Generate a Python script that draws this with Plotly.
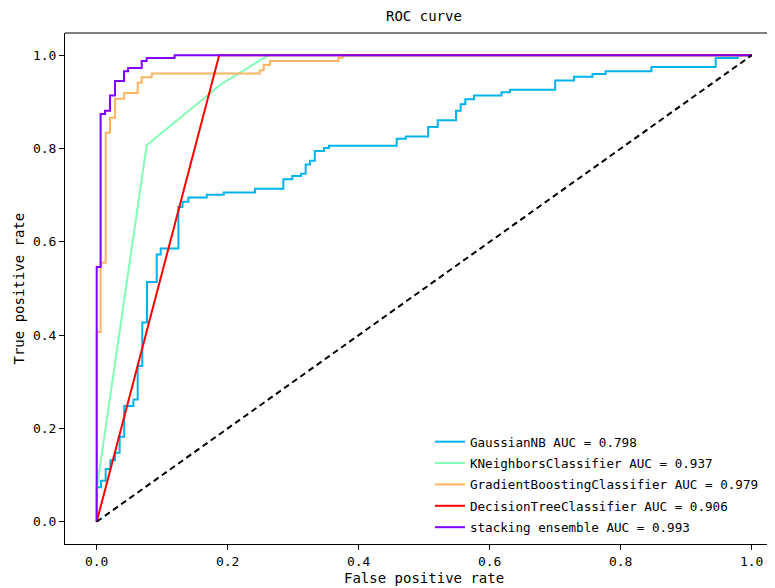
import plotly.graph_objects as go

# ---- data (ROC curve vertices) ----
# stair curves: at each fpr value the tpr rises to the listed value
gnb_fpr_steps = [0, 0.0066, 0.0137, 0.0208, 0.028, 0.035, 0.042, 0.056, 0.0626, 0.0696,
                 0.0768, 0.0916, 0.0977, 0.1247, 0.131, 0.14, 0.168, 0.194, 0.2417, 0.285,
                 0.2986, 0.312, 0.319, 0.3256, 0.333, 0.347, 0.3547, 0.458, 0.472, 0.506,
                 0.5206, 0.5486, 0.5557, 0.5628, 0.576, 0.618, 0.631, 0.7, 0.7287, 0.757,
                 0.777, 0.847, 0.945, 0.9786]
gnb_tpr_steps = [0.074, 0.088, 0.113, 0.132, 0.148, 0.182, 0.248, 0.262, 0.334, 0.427,
                 0.514, 0.573, 0.586, 0.675, 0.686, 0.695, 0.701, 0.706, 0.714, 0.734,
                 0.741, 0.746, 0.766, 0.774, 0.795, 0.801, 0.806, 0.821, 0.826, 0.846,
                 0.861, 0.881, 0.895, 0.906, 0.914, 0.921, 0.926, 0.946, 0.954, 0.96,
                 0.966, 0.975, 0.994, 1.0]

gb_fpr_steps = [0, 0.006, 0.0137, 0.0203, 0.028, 0.042, 0.0626, 0.0687, 0.084, 0.249,
                0.255, 0.2646, 0.369, 0.3756]
gb_tpr_steps = [0.407, 0.555, 0.834, 0.866, 0.907, 0.919, 0.941, 0.953, 0.961, 0.968,
                0.979, 0.988, 0.995, 1.0]

st_fpr_steps = [0, 0.006, 0.0127, 0.0203, 0.0279, 0.0417, 0.048, 0.0687, 0.0763, 0.119]
st_tpr_steps = [0.546, 0.874, 0.881, 0.914, 0.945, 0.966, 0.973, 0.988, 0.994, 1.0]

knn_fpr = [0, 0, 0.0763, 0.191, 0.262, 1.0]
knn_tpr = [0, 0.07, 0.807, 0.939, 1.0, 1.0]

dt_fpr = [0, 0.187, 1.0]
dt_tpr = [0, 1.0, 1.0]

names = ["GaussianNB AUC = 0.798",
         "KNeighborsClassifier AUC = 0.937",
         "GradientBoostingClassifier AUC = 0.979",
         "DecisionTreeClassifier AUC = 0.906",
         "stacking ensemble AUC = 0.993"]
colors = ["#00B4EB", "#80FFB4", "#FFB462", "#FF0000", "#8000FF"]

tick_vals = [0.0, 0.2, 0.4, 0.6, 0.8, 1.0]
tick_text = ["0.0", "0.2", "0.4", "0.6", "0.8", "1.0"]


def stair(fs, ts):
    x, y = [0.0], [0.0]
    for f, t in zip(fs, ts):
        x += [f, f]
        y += [y[-1], t]
    x.append(1.0)
    y.append(y[-1])
    return x, y


curves = [stair(gnb_fpr_steps, gnb_tpr_steps),
          (knn_fpr, knn_tpr),
          stair(gb_fpr_steps, gb_tpr_steps),
          (dt_fpr, dt_tpr),
          stair(st_fpr_steps, st_tpr_steps)]

FONT = "DejaVu Sans Mono"
fig = go.Figure()
for i, ((x, y), n, c) in enumerate(zip(curves, names, colors)):
    fig.add_trace(go.Scatter(x=x, y=y, mode="lines", name=n, legendgroup=f"g{i}",
                             line=dict(color=c, width=2)))
fig.add_trace(go.Scatter(x=[0, 1], y=[0, 1], mode="lines", showlegend=False,
                         line=dict(color="black", width=2, dash="6px,4px")))

fig.update_layout(
    width=767, height=580,
    margin=dict(l=57, r=0, t=25, b=44),
    plot_bgcolor="white", paper_bgcolor="white",
    font=dict(family=FONT, size=13, color="black"),
    showlegend=True,
    legend=dict(x=0.514, y=0.229, xanchor="left", yanchor="top",
                bgcolor="rgba(255,255,255,0)", borderwidth=0, tracegroupgap=2,
                font=dict(family=FONT, size=12.6), itemwidth=30),
    xaxis=dict(range=[-0.0484, 1.0356], tickvals=tick_vals, ticktext=tick_text,
               showgrid=False, zeroline=False, showline=True, linecolor="black",
               linewidth=1, ticks="outside", ticklen=5, tickcolor="black",
               tickfont=dict(family=FONT, size=13)),
    yaxis=dict(range=[-0.0478, 1.0478], tickvals=tick_vals, ticktext=tick_text,
               showgrid=False, zeroline=False, showline=True, linecolor="black",
               linewidth=1, ticks="outside", ticklen=5, tickcolor="black",
               tickfont=dict(family=FONT, size=13)),
    shapes=[dict(type="line", xref="paper", yref="paper", x0=0, x1=1, y0=1, y1=1,
                 line=dict(color="black", width=1))],
    annotations=[
        dict(text="ROC curve", xref="paper", yref="paper", x=0.506, y=1,
             yshift=7, xanchor="center", yanchor="bottom", showarrow=False,
             font=dict(family=FONT, size=14)),
        dict(text="False positive rate", xref="paper", yref="paper", x=0.506, y=0,
             yshift=-24, xanchor="center", yanchor="top", showarrow=False,
             font=dict(family=FONT, size=14)),
        dict(text="True positive rate", xref="paper", yref="paper", x=0, y=0.5,
             xshift=-37, xanchor="right", yanchor="middle", textangle=-90,
             showarrow=False, font=dict(family=FONT, size=14)),
    ],
)

fig.write_html("out.html")
